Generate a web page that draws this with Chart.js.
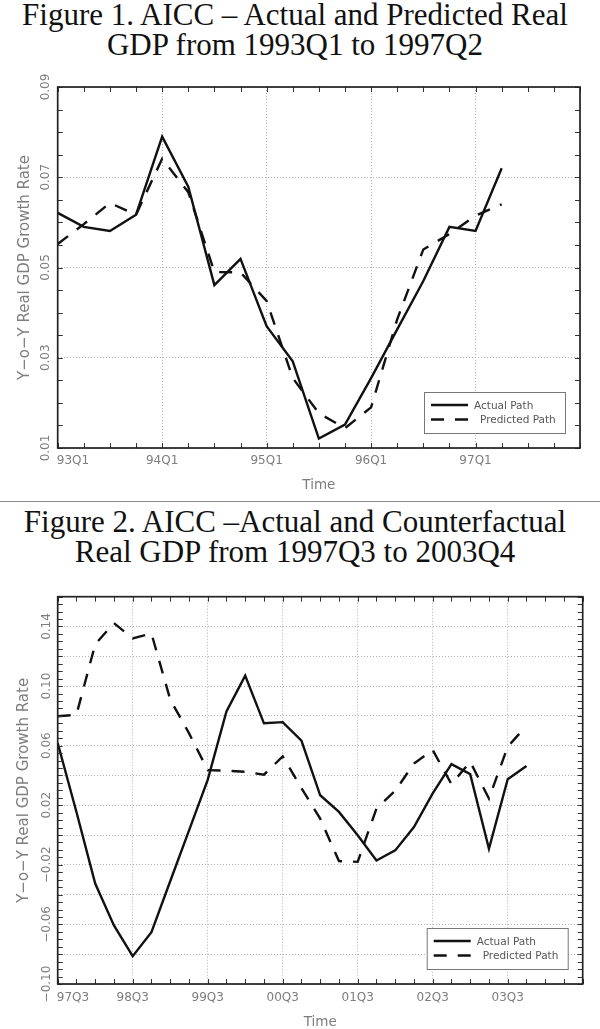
<!DOCTYPE html>
<html><head><meta charset="utf-8">
<script src="https://cdn.jsdelivr.net/npm/chart.js@4.4.1/dist/chart.umd.min.js"></script>
<style>
html,body{margin:0;padding:0;background:#fff;width:600px;height:1029px;overflow:hidden;position:relative;}
.title{position:absolute;left:-5px;width:600px;text-align:center;font-family:"Liberation Serif","Times New Roman",serif;font-size:31px;line-height:30px;color:#111;white-space:nowrap;z-index:2;}
.sep{position:absolute;left:0;top:501px;width:600px;height:0;border-top:1px solid #8a8a8a;z-index:2;}
.wrap{position:absolute;left:0;width:600px;}
</style></head><body>
<div class="wrap" style="top:66px;height:434px"><canvas id="c1"></canvas></div>
<div class="wrap" style="top:585px;height:446px"><canvas id="c2"></canvas></div>
<div class="title" style="top:0px">Figure 1. AICC – Actual and Predicted Real<br>GDP from 1993Q1 to 1997Q2</div>
<div class="sep"></div>
<div class="title" style="top:507px">Figure 2. AICC –Actual and Counterfactual<br>Real GDP from 1997Q3 to 2003Q4</div>
<script>
// ---------- data ----------
const seriesNames = ['Actual Path', 'Predicted Path'];

// Figure 1: quarters 93Q1 .. 97Q2 (index 0..17), axis spans 93Q1..98Q1
const xTickLabels1 = ['93Q1', '94Q1', '95Q1', '96Q1', '97Q1'];
const yTickLabels1 = ['0.01', '0.03', '0.05', '0.07', '0.09'];
const actual1 = [0.0621, 0.0590, 0.0581, 0.0617, 0.0790, 0.0679, 0.0461, 0.0519, 0.0370,
                 0.0292, 0.0121, 0.0152, 0.0255, 0.0363, 0.0470, 0.0590, 0.0581, 0.0720];
const predicted1 = [0.0552, 0.0596, 0.0643, 0.0617, 0.0741, 0.0667, 0.0490, 0.0489, 0.0426,
                    0.0255, 0.0177, 0.0144, 0.0190, 0.0385, 0.0540, 0.0574, 0.0615, 0.0640];

// Figure 2: quarters 97Q3 .. 03Q4 (index 0..25), axis spans 97Q3..04Q3
const xTickLabels2 = ['97Q3', '98Q3', '99Q3', '00Q3', '01Q3', '02Q3', '03Q3'];
const yTickLabels2 = ['\u22120.10', '\u22120.06', '\u22120.02', '0.02', '0.06', '0.10', '0.14'];
const actual2 = [0.0618, 0.0155, -0.0326, -0.0607, -0.0813, -0.0652, -0.0310, 0.0030, 0.0370,
                 0.0830, 0.1070, 0.0750, 0.0758, 0.0634, 0.0267, 0.0155, -0.0002, -0.0171,
                 -0.0103, 0.0054, 0.0279, 0.0476, 0.0409, -0.0092, 0.0375, 0.0463];
const predicted2 = [0.0797, 0.0808, 0.1280, 0.1423, 0.1320, 0.1353, 0.0910, 0.0684, 0.0436,
                    0.0432, 0.0425, 0.0405, 0.0528, 0.0315, 0.0110, -0.0175, -0.0180, 0.0178,
                    0.0297, 0.0480, 0.0571, 0.0342, 0.0492, 0.0245, 0.0593, 0.0733];

// ---------- helpers ----------
Chart.defaults.font.family = '"DejaVu Sans", "Liberation Sans", sans-serif';
const GRAY = '#7d7d7d';
const DASH = [13, 11];
const near = (a, b) => Math.abs(a - b) < 1e-7;
const numOf = s => parseFloat(s.replace('\u2212', '-'));

const boxPlugin = {
  id: 'boxPlugin',
  afterDatasetsDraw(chart) {
    const {ctx, chartArea: a} = chart;
    const xs = chart.scales.x, ys = chart.scales.y;
    ctx.save();
    // inward tick marks
    ctx.strokeStyle = '#333';
    ctx.lineWidth = 1;
    ctx.beginPath();
    xs.ticks.forEach(t => {
      const px = Math.round(xs.getPixelForValue(t.value)) + 0.5;
      ctx.moveTo(px, a.bottom); ctx.lineTo(px, a.bottom - 5);
      ctx.moveTo(px, a.top); ctx.lineTo(px, a.top + 5);
    });
    ys.ticks.forEach(t => {
      const py = Math.round(ys.getPixelForValue(t.value)) + 0.5;
      ctx.moveTo(a.left, py); ctx.lineTo(a.left + 5, py);
      ctx.moveTo(a.right, py); ctx.lineTo(a.right - 5, py);
    });
    ctx.stroke();
    // frame
    ctx.strokeStyle = '#222';
    ctx.lineWidth = 1.7;
    ctx.strokeRect(a.left, a.top, a.right - a.left, a.bottom - a.top);
    // legend box
    const w = 141, h = 41;
    const x0 = a.right - 15 - w, y0 = a.bottom - 15 - h;
    ctx.fillStyle = '#fff';
    ctx.fillRect(x0, y0, w, h);
    ctx.strokeStyle = '#777';
    ctx.lineWidth = 1;
    ctx.strokeRect(x0 + 0.5, y0 + 0.5, w, h);
    chart.data.datasets.forEach((ds, i) => {
      const yy = y0 + 13 + i * 14.5;
      ctx.strokeStyle = ds.borderColor;
      ctx.lineWidth = ds.borderWidth;
      ctx.setLineDash(ds.borderDash || []);
      ctx.beginPath(); ctx.moveTo(x0 + 7, yy); ctx.lineTo(x0 + 44, yy); ctx.stroke();
      ctx.setLineDash([]);
      ctx.fillStyle = '#555';
      ctx.font = '10.5px "DejaVu Sans"';
      ctx.textBaseline = 'middle';
      ctx.textAlign = 'left';
      ctx.fillText(ds.label, x0 + 50 + i * 6, yy + 1);
    });
    ctx.restore();
  }
};

function makeChart(id, cfg) {
  const ds = (vals, i) => ({
    label: seriesNames[i],
    data: vals.map((v, k) => ({x: k, y: v})),
    borderColor: '#111',
    borderWidth: 2.4,
    borderDash: i === 1 ? DASH : [],
    pointRadius: 0,
    tension: 0,
    fill: false
  });
  return new Chart(document.getElementById(id), {
    type: 'line',
    data: {datasets: [ds(cfg.actual, 0), ds(cfg.predicted, 1)]},
    plugins: [boxPlugin],
    options: {
      responsive: true,
      maintainAspectRatio: false,
      animation: false,
      events: [],
      layout: {padding: cfg.padding},
      plugins: {legend: {display: false}, tooltip: {enabled: false}},
      scales: {
        x: {
          type: 'linear',
          min: 0, max: cfg.xMax,
          afterFit: s => { s.height = cfg.xHeight; },
          grid: {
            drawTicks: false,
            lineWidth: 1,
            color: c => (c.tick && c.tick.value % 4 === 0) ? '#b0b0b0' : 'rgba(0,0,0,0)'
          },
          border: {display: false, dash: [1, 2]},
          ticks: {
            stepSize: 1, autoSkip: false, maxRotation: 0, minRotation: 0,
            padding: cfg.xPad, color: GRAY, font: {size: 12},
            callback: v => {
              if (v % 4 !== 0) return '';
              const i = v / 4;
              if (i >= cfg.xLabels.length) return '';
              return (i === 0 ? '\u2007\u2007\u2007\u2007' : '') + cfg.xLabels[i];
            }
          },
          title: {display: true, text: 'Time', color: GRAY, font: {size: 13.5},
                  padding: {top: 0, bottom: cfg.timePad}}
        },
        y: {
          type: 'linear',
          min: cfg.yMin, max: cfg.yMax,
          afterFit: s => { s.width = 57.7; },
          grid: {
            drawTicks: false,
            lineWidth: 1,
            color: c => {
              if (!c.tick) return 'rgba(0,0,0,0)';
              const r = (c.tick.value - cfg.yMin) / cfg.gridStep;
              return Math.abs(r - Math.round(r)) < 1e-6 ? '#b0b0b0' : 'rgba(0,0,0,0)';
            }
          },
          border: {display: false, dash: [1, 2]},
          ticks: {
            stepSize: 0.005, autoSkip: false, minRotation: 90, maxRotation: 90,
            crossAlign: 'center', padding: cfg.yPad, color: GRAY, font: {size: 12},
            callback: v => {
              const lab = cfg.yLabels.find(s => near(numOf(s), v));
              return lab || '';
            }
          },
          title: {display: true, text: 'Y\u2212o\u2212Y Real GDP Growth Rate', color: GRAY,
                  font: {size: 15}, padding: {top: cfg.yTitlePad, bottom: 0}}
        }
      }
    }
  });
}

makeChart('c1', {
  actual: actual1, predicted: predicted1,
  xLabels: xTickLabels1, yLabels: yTickLabels1,
  xMax: 20, yMin: 0.01, yMax: 0.09, gridStep: 0.02,
  padding: {left: 0, right: 20, top: 21, bottom: 0},
  xHeight: 52, xPad: 6, timePad: 6, yPad: -1.4, yTitlePad: 16
});
makeChart('c2', {
  actual: actual2, predicted: predicted2,
  xLabels: xTickLabels2, yLabels: yTickLabels2,
  xMax: 28, yMin: -0.10, yMax: 0.16, gridStep: 0.02,
  padding: {left: 0, right: 17.3, top: 11.7, bottom: 0},
  xHeight: 47, xPad: 7, timePad: 0, yPad: -7.4, yTitlePad: 15
});
</script>
</body></html>
